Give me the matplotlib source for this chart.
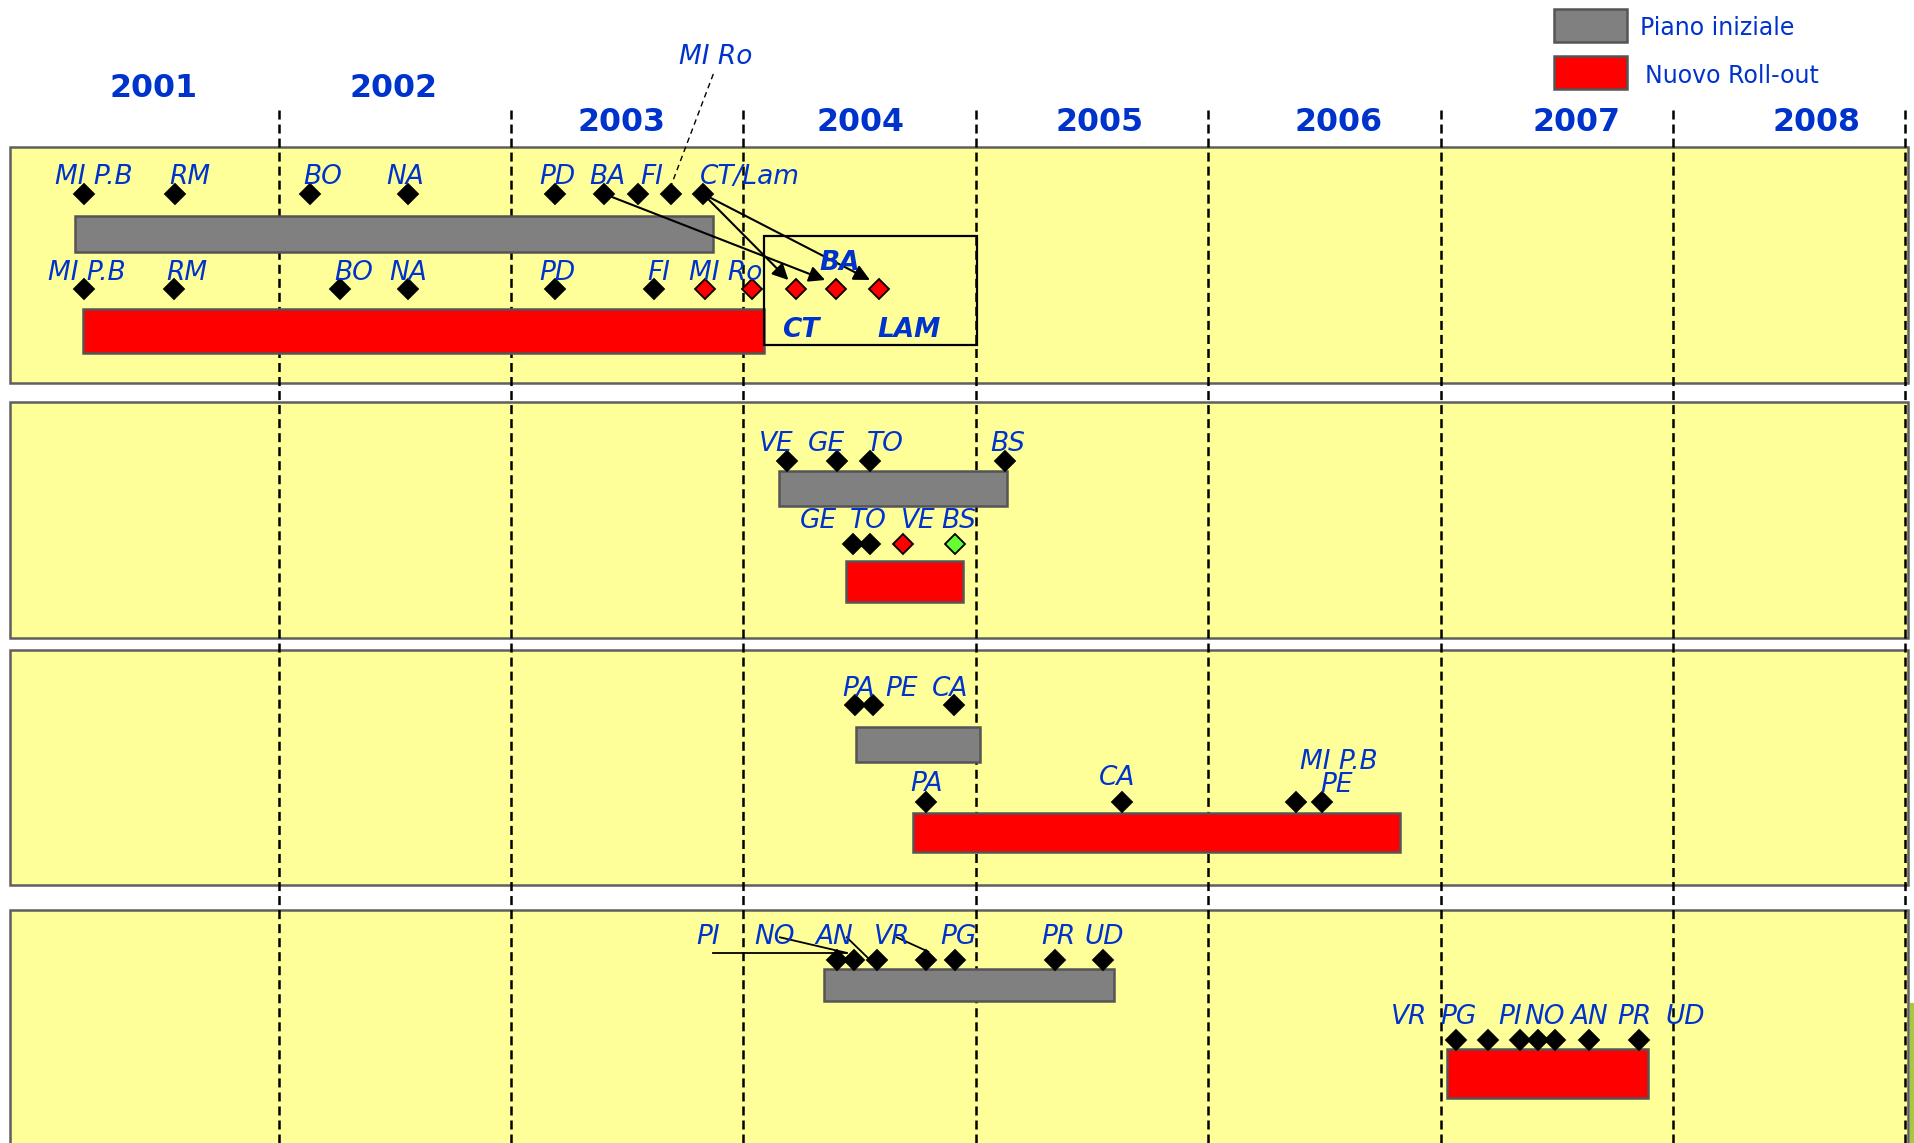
import matplotlib
matplotlib.use('Agg')
import matplotlib.pyplot as plt
from matplotlib.patches import Rectangle

plt.rcParams['lines.scale_dashes'] = False

# ---------------- data (x values in years) ----------------
years = ['2001', '2002', '2003', '2004', '2005', '2006', '2007', '2008']
year_label_x = [2001.464, 2002.493, 2003.476, 2004.506, 2005.531, 2006.561, 2007.587, 2008.616]
year_bounds = [2002, 2003, 2004, 2005, 2006, 2007, 2008, 2009]
legend_labels = ['Piano iniziale', 'Nuovo Roll-out']

# Panel 1
p1_plan_bar = (2001.126, 2003.871)
p1_plan_pts = [2001.163, 2001.555, 2002.135, 2002.559, 2003.189, 2003.402, 2003.547, 2003.687, 2003.827]
p1_plan_lbl = ['MI P.B', 'RM', 'BO', 'NA', 'PD', 'BA', 'FI', 'CT/Lam']
p1_plan_lbl_x = [2001.204, 2001.617, 2002.191, 2002.546, 2003.202, 2003.417, 2003.604, 2004.029]
p1_new_bar = (2001.157, 2004.087)
p1_new_pts = [2001.163, 2001.552, 2002.264, 2002.556, 2003.189, 2003.616,
              2003.835, 2004.039, 2004.225, 2004.398, 2004.585]
p1_new_col = ['black'] * 6 + ['red'] * 5
p1_new_lbl = ['MI P.B', 'RM', 'BO', 'NA', 'PD', 'FI', 'MI Ro']
p1_new_lbl_x = [2001.177, 2001.607, 2002.323, 2002.559, 2003.202, 2003.638, 2003.924]
p1_box = (2004.091, 2005.006)
p1_box_lbl = ['BA', 'CT', 'LAM']
p1_box_lbl_x = [2004.413, 2004.248, 2004.715]
p1_miro_x = 2003.883
p1_miro_leader = (2003.871, 2003.687)
p1_arrows = [(2003.402, 2004.352), (2003.827, 2004.194), (2003.827, 2004.545)]

# Panel 2
p2_plan_bar = (2004.155, 2005.136)
p2_plan_pts = [2004.188, 2004.403, 2004.545, 2005.127]
p2_plan_lbl = ['VE', 'GE', 'TO', 'BS']
p2_plan_lbl_x = [2004.141, 2004.356, 2004.610, 2005.139]
p2_new_bar = (2004.442, 2004.947)
p2_new_pts = [2004.473, 2004.545, 2004.688, 2004.911]
p2_new_col = ['black', 'black', 'red', '#66FF33']
p2_new_lbl = ['GE', 'TO', 'VE', 'BS']
p2_new_lbl_x = [2004.321, 2004.537, 2004.751, 2004.925]

# Panel 3
p3_plan_bar = (2004.486, 2005.020)
p3_plan_pts = [2004.480, 2004.559, 2004.907]
p3_plan_lbl = ['PA', 'PE', 'CA']
p3_plan_lbl_x = [2004.496, 2004.680, 2004.891]
p3_new_bar = (2004.730, 2006.824)
p3_new_pts = [2004.787, 2005.631, 2006.380, 2006.490]
p3_new_lbl = ['PA', 'CA', 'MI P.B', 'PE']
p3_new_lbl_x = [2004.790, 2005.609, 2006.561, 2006.551]

# Panel 4
p4_plan_bar = (2004.347, 2005.595)
p4_plan_pts = [2004.404, 2004.475, 2004.574, 2004.786, 2004.911, 2005.341, 2005.549]
p4_plan_lbl = ['PI', 'NO', 'AN', 'VR', 'PG', 'PR', 'UD']
p4_plan_lbl_x = [2003.849, 2004.136, 2004.391, 2004.641, 2004.926, 2005.358, 2005.553]
p4_leaders = [((2003.868, 2004.445), (953.3, 953.3)),
              ((2004.158, 2004.442), (937.3, 952.7)),
              ((2004.445, 2004.538), (937.3, 958.3)),
              ((2004.660, 2004.796), (937.3, 951.7))]
p4_new_bar = (2007.026, 2007.893)
p4_new_pts = [2007.065, 2007.204, 2007.344, 2007.418, 2007.494, 2007.639, 2007.856]
p4_new_lbl = ['VR', 'PG', 'PI', 'NO', 'AN', 'PR', 'UD']
p4_new_lbl_x = [2006.867, 2007.077, 2007.301, 2007.448, 2007.639, 2007.836, 2008.055]

# ---------------- layout ----------------
W, H = 1915, 1143
PXY = 232.4            # pixels per year
X0 = 2002 - 278.5 / PXY


def X(px):
    return X0 + px / PXY


BLUE = '#0033CC'
GRAY = '#808080'
EDGE = '#555555'
YELLOW = '#FFFF99'
LBL_PT = 19
YEAR_PT = 22.8
lbl_half_cap = 0.729 * LBL_PT * 100 / 72 / 2

fig = plt.figure(figsize=(W / 100, H / 100), dpi=100)
ax = fig.add_axes([0, 0, 1, 1])
ax.set_xlim(X(0), X(W))
ax.set_ylim(H, 0)
ax.axis('off')

# panels
panels_y = [(146.6, 382.8), (401.8, 637.6), (649.5, 884.5), (910, 1170)]
for (t, b) in panels_y:
    ax.add_patch(Rectangle((X(10), t), X(1907.5) - X(10), b - t, facecolor=YELLOW,
                           edgecolor='#5F5F5F', lw=1.8, zorder=1))
# small green sliver at right edge
ax.add_patch(Rectangle((X(1910), 1003), X(1915) - X(1910), 140, facecolor='#A9C73E',
                       edgecolor='none', zorder=1))

# year boundaries
for xb in year_bounds:
    ax.plot([xb, xb], [110, H], color='black', lw=1.8, linestyle=(0, (6.5, 3.6)), zorder=2)

# year labels
for i, (yl, xl) in enumerate(zip(years, year_label_x)):
    yc = 85.8 if i < 2 else 119.2
    ax.text(xl, yc + 0.729 * YEAR_PT * 100 / 72 / 2, yl, color=BLUE, fontsize=YEAR_PT,
            fontweight='bold', ha='center', va='baseline', zorder=6)

# legend
for (lab, (t, b), fc, tx, tyc) in zip(legend_labels, [(9, 41.7), (56, 89.3)], [GRAY, 'red'],
                                      [1640, 1645], [26.7, 74]):
    ax.add_patch(Rectangle((X(1554), t), X(1626.7) - X(1554), b - t, facecolor=fc,
                           edgecolor=EDGE, lw=1.8, zorder=3))
    ax.text(X(tx), tyc + 0.729 * 17 * 100 / 72 / 2, lab, color=BLUE, fontsize=17,
            ha='left', va='baseline', zorder=6)


def bar(span, t, b, color):
    ax.add_patch(Rectangle((span[0], t), span[1] - span[0], b - t, facecolor=color,
                           edgecolor=EDGE, lw=1.8, zorder=3))


def pts(xs, y, colors=None):
    if colors is None:
        colors = ['black'] * len(xs)
    for x, c in zip(xs, colors):
        ax.plot([x], [y], marker='D', ms=9.8, mfc=c, mec='black', mew=1.3,
                linestyle='none', zorder=5)


def labels(names, xs, ys, bold=False):
    if not isinstance(ys, (list, tuple)):
        ys = [ys] * len(names)
    for n, x, y in zip(names, xs, ys):
        ax.text(x, y + lbl_half_cap, n, color=BLUE, fontsize=LBL_PT, style='italic',
                fontweight='bold' if bold else 'normal', ha='center', va='baseline', zorder=6)


# ---- panel 1
bar(p1_plan_bar, 216, 252, GRAY)
pts(p1_plan_pts, 193.5)
labels(p1_plan_lbl, p1_plan_lbl_x, 174.8)
bar(p1_new_bar, 309, 353, 'red')
pts(p1_new_pts, 289, p1_new_col)
labels(p1_new_lbl, p1_new_lbl_x, 270.8)
ax.add_patch(Rectangle((p1_box[0], 235.5), p1_box[1] - p1_box[0], 344.7 - 235.5,
                       facecolor='none', edgecolor='black', lw=1.6, zorder=4))
labels(p1_box_lbl, p1_box_lbl_x, [260, 327.8, 327], bold=True)
ax.text(p1_miro_x, 54.2 + lbl_half_cap, 'MI Ro', color=BLUE, fontsize=LBL_PT, style='italic',
        ha='center', va='baseline', zorder=6)
ax.plot(list(p1_miro_leader), [74, 187], color='black', lw=1.0, linestyle=(0, (4, 3)), zorder=4)
for (x1, x2) in p1_arrows:
    ax.annotate('', xy=(x2, 280), xytext=(x1, 194),
                arrowprops=dict(arrowstyle='-|>', color='black', lw=1.5, mutation_scale=24,
                                shrinkA=0, shrinkB=0), zorder=4)

# ---- panel 2
bar(p2_plan_bar, 471, 506.3, GRAY)
pts(p2_plan_pts, 461)
labels(p2_plan_lbl, p2_plan_lbl_x, 441.7)
bar(p2_new_bar, 561, 602, 'red')
pts(p2_new_pts, 544.3, p2_new_col)
labels(p2_new_lbl, p2_new_lbl_x, 518.3)

# ---- panel 3
bar(p3_plan_bar, 727.3, 762.3, GRAY)
pts(p3_plan_pts, 705)
labels(p3_plan_lbl, p3_plan_lbl_x, 686.7)
bar(p3_new_bar, 813.3, 851.7, 'red')
pts(p3_new_pts, 801.7)
labels(p3_new_lbl, p3_new_lbl_x, [781.7, 775, 759.2, 782.5])

# ---- panel 4
bar(p4_plan_bar, 969, 1001, GRAY)
pts(p4_plan_pts, 960)
labels(p4_plan_lbl, p4_plan_lbl_x, 934.2)
for (xs, ys) in p4_leaders:
    ax.plot(list(xs), list(ys), color='black', lw=1.3, zorder=4)
bar(p4_new_bar, 1049.3, 1097.7, 'red')
pts(p4_new_pts, 1040)
labels(p4_new_lbl, p4_new_lbl_x, 1014.5)

fig.savefig('out.png', dpi=100)
